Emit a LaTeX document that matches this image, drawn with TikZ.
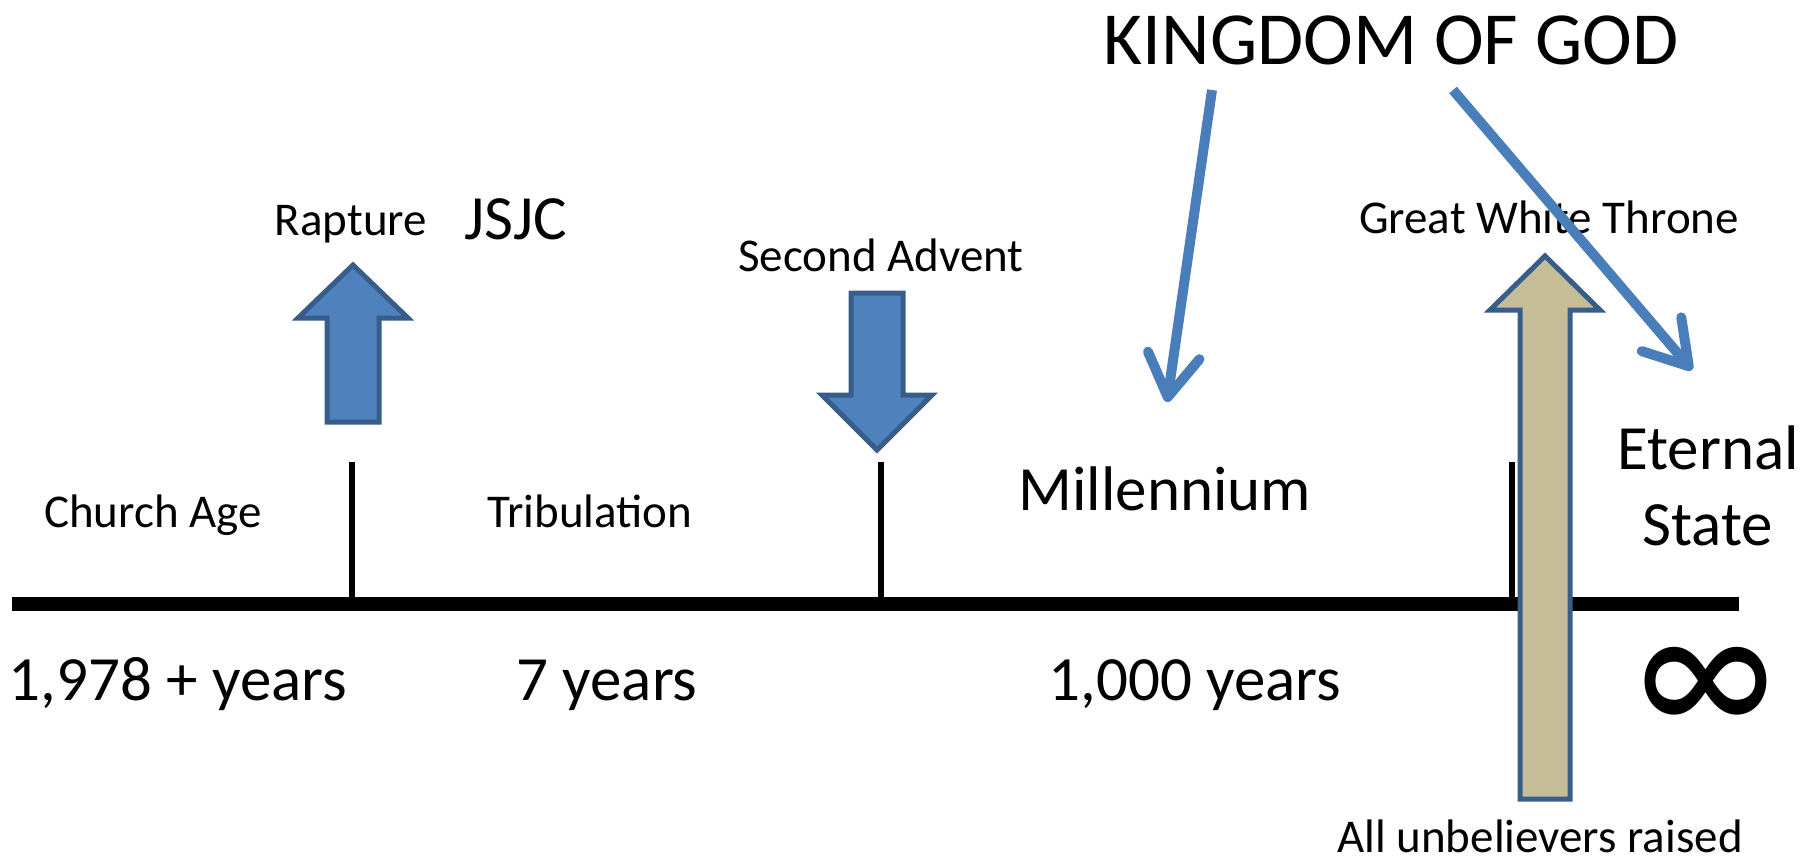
\documentclass[tikz,border=0pt]{standalone}
\usepackage{fontspec}
\setmainfont{Carlito}
\usetikzlibrary{arrows.meta}

\definecolor{eventblue}{HTML}{4F81BD}
\definecolor{eventedge}{HTML}{385D8A}
\definecolor{pointerblue}{HTML}{4A7EBB}
\definecolor{thronetan}{HTML}{C4BD97}

\begin{document}
\begin{tikzpicture}[
  x=1pt, y=-1pt,
  small text/.style={
    font=\fontsize{47}{56}\selectfont,
    inner sep=0pt, anchor=base,
  },
  large text/.style={
    font=\fontsize{63}{76}\selectfont,
    inner sep=0pt, anchor=base, align=center,
  },
  title text/.style={
    font=\fontsize{75}{90}\selectfont,
    inner sep=0pt, anchor=base,
  },
  timeline/.style={line width=14pt},
  tick mark/.style={line width=6pt},
  block arrow/.style={draw=eventedge, line width=5pt, line join=miter},
  pointer/.style={
    draw=pointerblue, line width=10pt,
    -{Straight Barb[length=42pt, width=52pt, round]},
  },
  ]
  \useasboundingbox (0,0) rectangle (1811,862);

  % time line and its ticks
  \draw [timeline] (12,604) -- (1739,604);
  \draw [tick mark] (352,462) -- (352,604);
  \draw [tick mark] (881,462) -- (881,604);
  \draw [tick mark] (1512,462) -- (1512,604);

  % periods
  \node [small text] (church-age) at (153,527) {Church Age};
  \node [small text] (tribulation) at (590,527) {Tribulation};
  \node [large text] (millennium) at (1165,510) {Millennium};
  \node [large text, anchor=north] (eternal-state) at (1708,426) {Eternal\\State};

  % durations
  \node [large text] (dur-church) at (178,700) {1,978 + years};
  \node [large text] (dur-trib) at (607,700) {7 years};
  \node [large text] (dur-mill) at (1195,700) {1,000 years};
  \node [font=\fontsize{190}{190}\selectfont, inner sep=0pt] (dur-eternal)
  at (1706,740) {\scalebox{0.83}[1.12]{\smash{∞}}};

  % events
  \node [small text] (rapture) at (351,235) {Rapture};
  \node [large text] (jsjc) at (516,239) {JSJC};
  \node [small text] (second-advent) at (881,271) {Second Advent};
  \node [small text] (great-white) at (1549,233) {Great White Throne};
  \node [small text] (unbelievers) at (1540,852) {All unbelievers raised};

  \draw [block arrow, fill=eventblue]
  (327,422) -- (327,318) -- (298,318) -- (353,265) -- (408,318)
  -- (379,318) -- (379,422) -- cycle;
  \draw [block arrow, fill=eventblue]
  (851,293) -- (903,293) -- (903,395) -- (932,395) -- (877,450)
  -- (822,395) -- (851,395) -- cycle;
  \draw [block arrow, fill=thronetan]
  (1520,799) -- (1520,310) -- (1490,310) -- (1545,256) -- (1600,310)
  -- (1570,310) -- (1570,799) -- cycle;

  % kingdom of god
  \node [title text] (kingdom) at (1391,64) {KINGDOM OF GOD};
  \coordinate (kingdom-mill) at (1167,402);
  \coordinate (kingdom-eternal) at (1692,370);
  \draw [pointer] (1212,90) -- (kingdom-mill);
  \draw [pointer] (1453,90) -- (kingdom-eternal);
\end{tikzpicture}
\end{document}
